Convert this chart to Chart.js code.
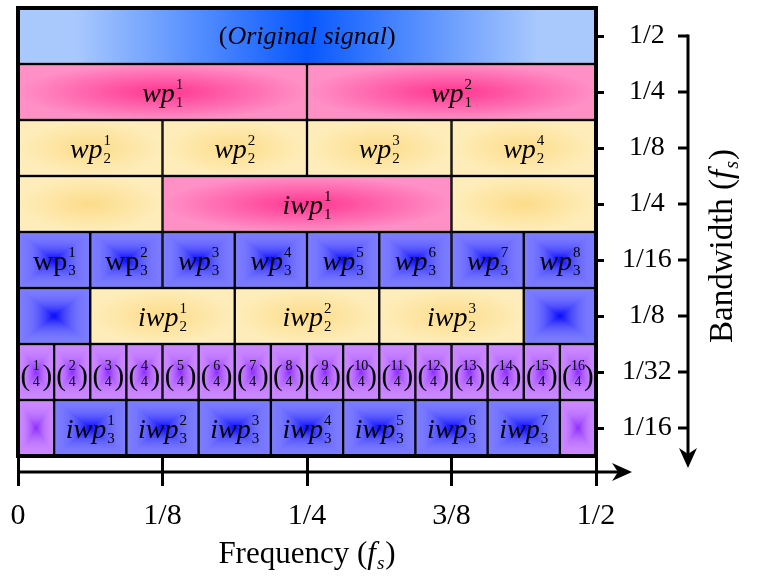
<!DOCTYPE html>
<html>
<head>
<meta charset="utf-8">
<script src="https://cdn.jsdelivr.net/npm/chart.js@4.4.0/dist/chart.umd.min.js"></script>
<style>
  html, body { margin: 0; padding: 0; background: #fff; }
</style>
</head>
<body>
<canvas id="waveletChart" width="758" height="579"></canvas>
<script>
// Wavelet packet tiling of the band 0 .. fs/2
const rowNames = ['lvl0', 'lvl1', 'lvl2', 'lvl2i', 'lvl3', 'lvl3i', 'lvl4', 'lvl4i'];
const bandwidthLabels = ['1/2', '1/4', '1/8', '1/4', '1/16', '1/8', '1/32', '1/16'];
const freqTicks = ['0', '1/8', '1/4', '3/8', '1/2'];

// cell edges of each row, in units of fs
const edgesLvl0 = [0, 1/2];
const edgesLvl1 = [0, 1/4, 1/2];
const edgesLvl2 = [0, 1/8, 1/4, 3/8, 1/2];
const edgesLvl2i = [0, 1/8, 3/8, 1/2];
const edgesLvl3 = [0, 1/16, 2/16, 3/16, 4/16, 5/16, 6/16, 7/16, 8/16];
const edgesLvl3i = [0, 1/16, 3/16, 5/16, 7/16, 8/16];
const edgesLvl4 = [0, 1/32, 2/32, 3/32, 4/32, 5/32, 6/32, 7/32, 8/32,
                   9/32, 10/32, 11/32, 12/32, 13/32, 14/32, 15/32, 16/32];
const edgesLvl4i = [0, 1/32, 3/32, 5/32, 7/32, 9/32, 11/32, 13/32, 15/32, 16/32];

// fill kind of each cell
const fillsLvl0 = ['signal'];
const fillsLvl1 = ['pink', 'pink'];
const fillsLvl2 = ['yellow', 'yellow', 'yellow', 'yellow'];
const fillsLvl2i = ['yellow', 'pink', 'yellow'];
const fillsLvl3 = ['blue', 'blue', 'blue', 'blue', 'blue', 'blue', 'blue', 'blue'];
const fillsLvl3i = ['blue', 'yellow', 'yellow', 'yellow', 'blue'];
const fillsLvl4 = ['purple', 'purple', 'purple', 'purple', 'purple', 'purple', 'purple', 'purple',
                   'purple', 'purple', 'purple', 'purple', 'purple', 'purple', 'purple', 'purple'];
const fillsLvl4i = ['purple', 'blue', 'blue', 'blue', 'blue', 'blue', 'blue', 'blue', 'purple'];

// cell labels: base_sub^sup, "!" = upright, "a|b" = binomial
const labelsLvl0 = ['(Original signal)'];
const labelsLvl1 = ['wp_1^1', 'wp_1^2'];
const labelsLvl2 = ['wp_2^1', 'wp_2^2', 'wp_2^3', 'wp_2^4'];
const labelsLvl2i = ['', 'iwp_1^1', ''];
const labelsLvl3 = ['!wp_3^1', '!wp_3^2', 'wp_3^3', 'wp_3^4', 'wp_3^5', 'wp_3^6', 'wp_3^7', 'wp_3^8'];
const labelsLvl3i = ['', 'iwp_2^1', 'iwp_2^2', 'iwp_2^3', ''];
const labelsLvl4 = ['1|4', '2|4', '3|4', '4|4', '5|4', '6|4', '7|4', '8|4',
                    '9|4', '10|4', '11|4', '12|4', '13|4', '14|4', '15|4', '16|4'];
const labelsLvl4i = ['', 'iwp_3^1', 'iwp_3^2', 'iwp_3^3', 'iwp_3^4', 'iwp_3^5', 'iwp_3^6', 'iwp_3^7', ''];

// [outer, centre] colour of each fill kind
const fillColors = {
    signal: ['#a9c9fd', '#0858ff'],
    pink: ['#ff90c6', '#ff3590'],
    yellow: ['#feedbb', '#fcdc8a'],
    blue: ['#7c7cff', '#0505ff'],
    purple: ['#cb88ff', '#8a2aff']
};

const SERIF = '"Liberation Serif", "DejaVu Serif", serif';

const rows = [
    [edgesLvl0, fillsLvl0, labelsLvl0],
    [edgesLvl1, fillsLvl1, labelsLvl1],
    [edgesLvl2, fillsLvl2, labelsLvl2],
    [edgesLvl2i, fillsLvl2i, labelsLvl2i],
    [edgesLvl3, fillsLvl3, labelsLvl3],
    [edgesLvl3i, fillsLvl3i, labelsLvl3i],
    [edgesLvl4, fillsLvl4, labelsLvl4],
    [edgesLvl4i, fillsLvl4i, labelsLvl4i]
];

function hexRgb(hex) {
    const n = parseInt(hex.slice(1), 16);
    return [(n >> 16) & 255, (n >> 8) & 255, n & 255];
}

function mix(a, b, t) {
    const c = a.map((v, i) => Math.round(v + (b[i] - v) * t));
    return `rgb(${c[0]}, ${c[1]}, ${c[2]})`;
}

// paints one cell's shading on an offscreen canvas
function paintCell(kind, w, h) {
    const c = document.createElement('canvas');
    c.width = Math.ceil(w);
    c.height = Math.ceil(h);
    const g = c.getContext('2d');
    const [outer, inner] = fillColors[kind];

    if (kind === 'signal') {
        const lg = g.createLinearGradient(0, 0, w, 0);
        lg.addColorStop(0, outer);
        lg.addColorStop(0.1, outer);
        lg.addColorStop(0.5, inner);
        lg.addColorStop(0.9, outer);
        lg.addColorStop(1, outer);
        g.fillStyle = lg;
        g.fillRect(0, 0, w, h);
    } else if (kind === 'pink' || kind === 'yellow') {
        g.fillStyle = outer;
        g.fillRect(0, 0, w, h);
        g.save();
        g.translate(w / 2, h / 2);
        g.scale(w / h, 1);
        const rg = g.createRadialGradient(0, 0, 0, 0, 0, h / 2);
        rg.addColorStop(0, inner);
        rg.addColorStop(1, outer);
        g.fillStyle = rg;
        g.fillRect(-h / 2, -h / 2, h, h);
        g.restore();
    } else {
        // rectangular (pyramid) shading, dark only near the centre
        const a = hexRgb(outer), b = hexRgb(inner);
        const steps = Math.ceil(Math.max(w, h) / 2);
        for (let i = 0; i <= steps; i++) {
            const t = i / steps;
            const dx = t * w / 2, dy = t * h / 2;
            g.fillStyle = mix(a, b, Math.pow(t, 2.2));
            g.fillRect(dx, dy, w - 2 * dx, h - 2 * dy);
        }
    }
    return c;
}

function cellFill(ctx) {
    const chart = ctx.chart;
    const kind = ctx.dataset.cellFills[ctx.dataIndex];
    if (!chart.chartArea || !ctx.raw) return fillColors[kind][0];
    const xs = chart.scales.x, ys = chart.scales.y;
    const left = xs.getPixelForValue(ctx.raw.x[0]);
    const right = xs.getPixelForValue(ctx.raw.x[1]);
    const rowH = ys.getPixelForValue(1) - ys.getPixelForValue(0);
    const top = ys.getPixelForValue(ctx.datasetIndex) - rowH / 2;
    const pat = chart.ctx.createPattern(paintCell(kind, right - left, rowH), 'no-repeat');
    pat.setTransform(new DOMMatrix().translate(left, top));
    return pat;
}

const datasets = rows.map(([edges, fills, labels], r) => ({
    data: edges.slice(1).map((end, i) => ({ x: [edges[i], end], y: rowNames[r] })),
    cellFills: fills,
    cellLabels: labels,
    backgroundColor: cellFill,
    borderColor: '#000',
    borderWidth: 1.5,
    borderSkipped: false,
    barPercentage: 1,
    categoryPercentage: 1,
    grouped: false
}));

function drawScript(ctx, label, cx, cy) {
    let upright = false;
    if (label[0] === '!') { upright = true; label = label.slice(1); }
    const m = label.match(/^(\w+)_(\d+)\^(\d+)$/);
    const baseFont = (upright ? '' : 'italic ') + '28px ' + SERIF;
    const smallFont = '15px ' + SERIF;
    ctx.font = baseFont;
    const bw = ctx.measureText(m[1]).width;
    ctx.font = smallFont;
    const sw = Math.max(ctx.measureText(m[2]).width, ctx.measureText(m[3]).width);
    const x0 = cx - (bw + sw + 1) / 2;
    const baseY = cy + 10;
    ctx.font = baseFont;
    ctx.fillText(m[1], x0, baseY);
    ctx.font = smallFont;
    ctx.fillText(m[3], x0 + bw + 1, baseY - 13);
    ctx.fillText(m[2], x0 + bw + 1, baseY + 5);
}

function drawBinomial(ctx, label, cx, cy) {
    const [top, bottom] = label.split('|');
    ctx.font = '29px ' + SERIF;
    ctx.textAlign = 'center';
    ctx.fillText('(', cx - 11, cy + 13);
    ctx.fillText(')', cx + 11, cy + 13);
    ctx.font = '14px ' + SERIF;
    ctx.fillText(top, cx, cy - 2);
    ctx.fillText(bottom, cx, cy + 14);
    ctx.textAlign = 'left';
}

function drawSignal(ctx, cx, cy) {
    const upright = '26px ' + SERIF, italic = 'italic 26px ' + SERIF;
    ctx.font = upright;
    const pw = ctx.measureText('(').width, qw = ctx.measureText(')').width;
    ctx.font = italic;
    const tw = ctx.measureText('Original signal').width;
    let x = cx - (pw + tw + qw) / 2;
    const y = cy + 8;
    ctx.font = upright; ctx.fillText('(', x, y); x += pw;
    ctx.font = italic; ctx.fillText('Original signal', x, y); x += tw;
    ctx.font = upright; ctx.fillText(')', x, y);
}

// frame and cell texts
const cellTextPlugin = {
    id: 'cellText',
    afterDatasetsDraw(chart) {
        const { ctx, chartArea } = chart;
        ctx.save();
        ctx.strokeStyle = '#000';
        ctx.lineWidth = 4;
        ctx.strokeRect(chartArea.left, chartArea.top,
            chartArea.right - chartArea.left, chartArea.bottom - chartArea.top);
        ctx.fillStyle = '#000';
        ctx.textBaseline = 'alphabetic';
        ctx.textAlign = 'left';
        chart.data.datasets.forEach((ds, di) => {
            chart.getDatasetMeta(di).data.forEach((bar, j) => {
                const label = ds.cellLabels[j];
                if (!label) return;
                const cx = (bar.x + bar.base) / 2, cy = bar.y;
                if (label[0] === '(') drawSignal(ctx, cx, cy);
                else if (label.includes('|')) drawBinomial(ctx, label, cx, cy);
                else drawScript(ctx, label, cx, cy);
            });
        });
        ctx.restore();
    }
};

// arrows and axis titles
const axisArrowPlugin = {
    id: 'axisArrows',
    afterDraw(chart) {
        const { ctx, chartArea, scales: { y } } = chart;
        ctx.save();
        ctx.strokeStyle = '#000';
        ctx.fillStyle = '#000';
        ctx.lineWidth = 3;

        // frequency axis
        const ay = chartArea.bottom + 16;
        const tipX = chartArea.right + 36;
        ctx.beginPath();
        ctx.moveTo(chartArea.left, ay);
        ctx.lineTo(tipX - 6, ay);
        ctx.stroke();
        ctx.beginPath();
        ctx.moveTo(tipX, ay);
        ctx.lineTo(tipX - 20, ay - 9);
        ctx.lineTo(tipX - 14, ay);
        ctx.lineTo(tipX - 20, ay + 9);
        ctx.closePath();
        ctx.fill();

        // bandwidth axis
        const bx = chartArea.right + 92;
        const tipY = chartArea.bottom + 12;
        ctx.beginPath();
        ctx.moveTo(bx, y.getPixelForTick(0) - 1.5);
        ctx.lineTo(bx, tipY - 6);
        ctx.stroke();
        y.ticks.forEach((t, i) => {
            const py = y.getPixelForTick(i);
            ctx.beginPath();
            ctx.moveTo(bx - 10, py);
            ctx.lineTo(bx, py);
            ctx.stroke();
        });
        ctx.beginPath();
        ctx.moveTo(bx, tipY);
        ctx.lineTo(bx - 9, tipY - 20);
        ctx.lineTo(bx, tipY - 14);
        ctx.lineTo(bx + 9, tipY - 20);
        ctx.closePath();
        ctx.fill();

        ctx.textBaseline = 'alphabetic';
        ctx.textAlign = 'left';
        drawAxisTitle(ctx, 'Frequency', (chartArea.left + chartArea.right) / 2, 563, 0, 31);
        drawAxisTitle(ctx, 'Bandwidth', chartArea.right + 126, 246, -Math.PI / 2, 33);
        ctx.restore();
    }
};

function drawAxisTitle(ctx, word, cx, cy, angle, size) {
    const upright = size + 'px ' + SERIF, italic = 'italic ' + size + 'px ' + SERIF;
    const sub = 'italic ' + Math.round(size * 0.6) + 'px ' + SERIF;
    ctx.font = upright;
    const w1 = ctx.measureText(word + ' (').width, w3 = ctx.measureText(')').width;
    ctx.font = italic;
    const w2 = ctx.measureText('f').width;
    ctx.font = sub;
    const ws = ctx.measureText('s').width;
    const total = w1 + w2 + ws + w3 + 2;
    ctx.save();
    ctx.translate(cx, cy);
    ctx.rotate(angle);
    let x = -total / 2;
    const base = angle ? 10 : 0;
    ctx.font = upright; ctx.fillText(word + ' (', x, base); x += w1;
    ctx.font = italic; ctx.fillText('f', x, base); x += w2 + 1;
    ctx.font = sub; ctx.fillText('s', x, base + 6); x += ws + 1;
    ctx.font = upright; ctx.fillText(')', x, base);
    ctx.restore();
}

new Chart(document.getElementById('waveletChart'), {
    type: 'bar',
    data: { labels: rowNames, datasets: datasets },
    options: {
        indexAxis: 'y',
        responsive: false,
        animation: false,
        events: [],
        layout: { padding: { left: 18, top: 8, right: 82, bottom: 0 } },
        plugins: { legend: { display: false }, tooltip: { enabled: false } },
        scales: {
            x: {
                type: 'linear',
                min: 0,
                max: 0.5,
                afterFit: scale => {
                    scale.height = 123;
                    scale.paddingLeft = 0;
                    scale.paddingRight = 0;
                },
                ticks: {
                    stepSize: 0.125,
                    autoSkip: false,
                    maxRotation: 0,
                    padding: 12,
                    color: '#000',
                    font: { family: SERIF, size: 30 },
                    callback: (value, index) => freqTicks[index]
                },
                grid: { drawOnChartArea: false, tickLength: 30, tickWidth: 3, tickColor: '#000' },
                border: { display: false }
            },
            y: {
                type: 'category',
                position: 'right',
                labels: rowNames,
                offset: true,
                afterFit: scale => {
                    scale.width = 80;
                    scale.paddingTop = 0;
                    scale.paddingBottom = 0;
                },
                ticks: {
                    crossAlign: 'center',
                    padding: 18,
                    color: '#000',
                    font: { family: SERIF, size: 28 },
                    callback: (value, index) => bandwidthLabels[index]
                },
                grid: { offset: false, drawOnChartArea: false, tickLength: 8, tickWidth: 3, tickColor: '#000' },
                border: { display: false }
            }
        }
    },
    plugins: [cellTextPlugin, axisArrowPlugin]
});
</script>
</body>
</html>
